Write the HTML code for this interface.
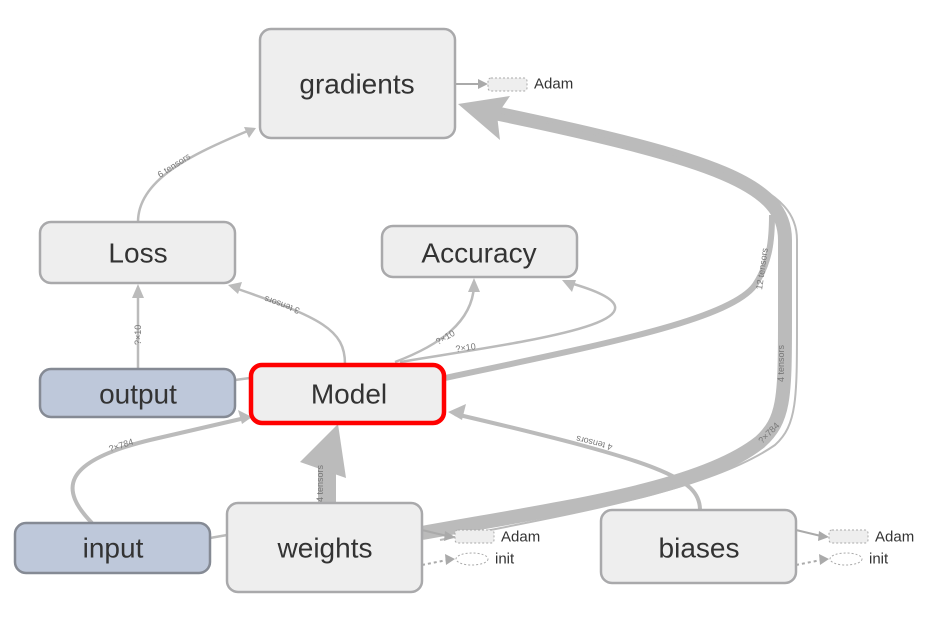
<!DOCTYPE html>
<html><head><meta charset="utf-8"><style>
html,body{margin:0;padding:0;background:#fff;}
svg{display:block;font-family:"Liberation Sans",sans-serif;}
.n{fill:#eeeeee;stroke:#a9a9ab;stroke-width:2.5;}
.b{fill:#bec8da;stroke:#858a94;stroke-width:2.5;}
.t{font-size:28px;fill:#333;text-anchor:middle;dominant-baseline:central;}
.e{fill:none;stroke:#bbbbbb;}
.l{font-size:9px;fill:#777;}
.s{font-size:15px;fill:#333;dominant-baseline:central;}
</style></head><body>
<svg width="937" height="621" viewBox="0 0 937 621">
<path class="e" stroke-width="14" d="M422 533 C560 508,700 490,760 442 C784 420,785 400,785 320 L785 240 C785 185,720 160,490 112"/>
<path class="e" stroke-width="2" d="M440 540 C580 512,710 490,775 445 C797 425,797 400,797 320 L797 240 C797 190,740 165,500 112"/>
<polygon points="458,104 510,96 497,115 500,140" fill="#bbbbbb"/>
<path class="e" stroke-width="6" d="M445 378 C600 345,730 320,755 285 C770 262,772 240,772 215"/>
<path class="e" stroke-width="4" d="M700 510 C700 478,660 462,455 414"/>
<polygon points="448,412 466,404 462,420" fill="#bbbbbb"/>
<path class="e" stroke-width="2.5" d="M395 362 C440 345,472 322,474 286"/>
<polygon points="474,278 468,292 480,292" fill="#bbbbbb"/>
<path class="e" stroke-width="2.5" d="M400 362 C520 342,700 320,570 283"/>
<polygon points="562,280 576,280 572,292" fill="#bbbbbb"/>
<path class="e" stroke-width="2.5" d="M345 364 C345 330,322 318,235 288"/>
<polygon points="228,285 242,282 238,294" fill="#bbbbbb"/>
<path class="e" stroke-width="2.5" d="M138 369 L138 292"/>
<polygon points="138,284 132,298 144,298" fill="#bbbbbb"/>
<path class="e" stroke-width="2.5" d="M138 222 C138 180,190 155,250 130"/>
<polygon points="256,128 244,127 249,138" fill="#bbbbbb"/>
<path class="e" stroke-width="4" d="M92 523 C60 490,60 462,150 440 L245 418"/>
<polygon points="252,417 238,410 242,424" fill="#bbbbbb"/>
<rect x="318" y="455" width="18" height="50" fill="#bbbbbb"/>
<polygon points="338,424 300,462 346,478" fill="#bbbbbb"/>
<line x1="235" y1="380" x2="250" y2="378" stroke="#bbb" stroke-width="2.5"/>
<line x1="210" y1="538" x2="227" y2="535" stroke="#bbb" stroke-width="2.5"/>
<line x1="455" y1="84" x2="480" y2="84" stroke="#aaa" stroke-width="2"/>
<polygon points="488,84 478,79 478,89" fill="#aaa"/>
<line x1="422" y1="530" x2="447" y2="536" stroke="#aaa" stroke-width="2"/>
<polygon points="455,537 445,531 444,541" fill="#aaa"/>
<path d="M422 565 L447 560" stroke="#aaa" stroke-width="2" stroke-dasharray="3,3" fill="none"/>
<polygon points="455,559 445,554 446,565" fill="#aaa"/>
<line x1="796" y1="530" x2="821" y2="536" stroke="#aaa" stroke-width="2"/>
<polygon points="829,537 819,531 818,541" fill="#aaa"/>
<path d="M796 565 L821 560" stroke="#aaa" stroke-width="2" stroke-dasharray="3,3" fill="none"/>
<polygon points="829,559 819,554 820,565" fill="#aaa"/>
<text class="l" transform="translate(160,178) rotate(-33)">6 tensors</text>
<text class="l" transform="translate(141,345) rotate(-90)">?×10</text>
<text class="l" transform="translate(283,302) rotate(200)" text-anchor="middle">3 tensors</text>
<text class="l" transform="translate(438,345) rotate(-30)">?×10</text>
<text class="l" transform="translate(456,352) rotate(-8)">?×10</text>
<text class="l" transform="translate(762,290) rotate(-82)">12 tensors</text>
<text class="l" transform="translate(784,382) rotate(-90)">4 tensors</text>
<text class="l" transform="translate(762,444) rotate(-45)">?×784</text>
<text class="l" transform="translate(595,440) rotate(194)" text-anchor="middle">4 tensors</text>
<text class="l" transform="translate(110,452) rotate(-18)">?×784</text>
<text class="l" transform="translate(323,502) rotate(-90)" fill="#777">4 tensors</text>
<rect class="n" x="260" y="29" width="195" height="109" rx="11"/>
<text class="t" x="357" y="84">gradients</text>
<rect class="n" x="40" y="222" width="195" height="61" rx="11"/>
<text class="t" x="138" y="253">Loss</text>
<rect class="n" x="382" y="226" width="195" height="51" rx="11"/>
<text class="t" x="479" y="253">Accuracy</text>
<rect class="b" x="40" y="369" width="195" height="48" rx="11"/>
<text class="t" x="138" y="394">output</text>
<rect x="251" y="365" width="193" height="58" rx="11" fill="#eeeeee" stroke="#ff0000" stroke-width="4.5"/>
<text class="t" x="349" y="394">Model</text>
<rect class="b" x="15" y="523" width="195" height="50" rx="11"/>
<text class="t" x="113" y="548">input</text>
<rect class="n" x="227" y="503" width="195" height="89" rx="11"/>
<text class="t" x="325" y="548">weights</text>
<rect class="n" x="601" y="510" width="195" height="73" rx="11"/>
<text class="t" x="699" y="548">biases</text>
<rect x="488" y="78" width="39" height="13" rx="3" fill="#eee" stroke="#aaa" stroke-dasharray="2,2"/>
<text class="s" x="534" y="84">Adam</text>
<rect x="455" y="530" width="39" height="13" rx="3" fill="#eee" stroke="#aaa" stroke-dasharray="2,2"/>
<text class="s" x="501" y="537">Adam</text>
<ellipse cx="472" cy="559" rx="16" ry="6" fill="#fff" stroke="#aaa" stroke-dasharray="2,2"/>
<text class="s" x="495" y="559">init</text>
<rect x="829" y="530" width="39" height="13" rx="3" fill="#eee" stroke="#aaa" stroke-dasharray="2,2"/>
<text class="s" x="875" y="537">Adam</text>
<ellipse cx="846" cy="559" rx="16" ry="6" fill="#fff" stroke="#aaa" stroke-dasharray="2,2"/>
<text class="s" x="869" y="559">init</text>
</svg>
</body></html>
